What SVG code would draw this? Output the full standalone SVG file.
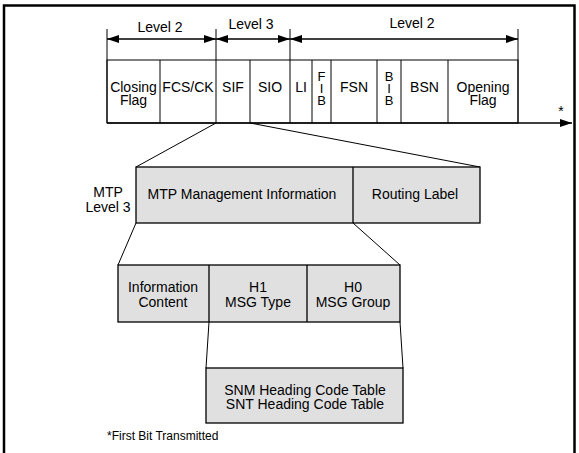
<svg xmlns="http://www.w3.org/2000/svg" width="579" height="453" viewBox="0 0 579 453">
<defs>
<style>
text{font-family:"Liberation Sans",Arial,sans-serif;font-size:14px;fill:#000;text-anchor:middle}
.l{stroke:#000;stroke-width:1;fill:none}
.b{stroke:#000;stroke-width:1.3;fill:#e0e0e0}
.a{stroke:#000;stroke-width:1.5;fill:none}
</style>
<marker id="ah" viewBox="0 0 12 8" refX="12" refY="4" markerWidth="12" markerHeight="8" markerUnits="userSpaceOnUse" orient="auto-start-reverse"><path d="M0,0 L12,4 L0,8 Z" fill="#000"/></marker>
</defs>
<path d="M4,453 V5.5 H574.5 V453" fill="none" stroke="#000" stroke-width="2.5"/>
<g id="frame">
<rect x="107" y="60" width="411" height="63" fill="#fff" stroke="#000" stroke-width="1"/>
<path class="l" d="M107,29 V123 M216,29 V123 M290,29 V123 M518,29 V123 M160,60 V123 M250,60 V123 M312,60 V123 M331,60 V123 M377,60 V123 M401,60 V123 M448,60 V123"/>
<text x="133.5" y="92">Closing</text><text x="133.5" y="105">Flag</text>
<text x="188" y="92">FCS/CK</text>
<text x="233" y="92">SIF</text>
<text x="270" y="92">SIO</text>
<text x="301" y="92">LI</text>
<text x="321.5" y="81" style="font-size:13px">F<tspan x="321.5" dy="12">I</tspan><tspan x="321.5" dy="12">B</tspan></text>
<text x="354" y="92">FSN</text>
<text x="389" y="81" style="font-size:13px">B<tspan x="389" dy="12">I</tspan><tspan x="389" dy="12">B</tspan></text>
<text x="424.5" y="92">BSN</text>
<text x="483" y="92">Opening</text><text x="483" y="105">Flag</text>
<text x="561" y="116">*</text>
</g>
<g id="levels">
<line class="a" x1="107" y1="39" x2="216" y2="39" marker-start="url(#ah)" marker-end="url(#ah)"/>
<line class="a" x1="216" y1="39" x2="290" y2="39" marker-start="url(#ah)" marker-end="url(#ah)"/>
<line class="a" x1="290" y1="39" x2="518" y2="39" marker-start="url(#ah)" marker-end="url(#ah)"/>
<text x="160" y="32">Level 2</text>
<text x="251" y="29">Level 3</text>
<text x="412" y="28">Level 2</text>
</g>
<g id="connectors">
<line class="a" x1="107" y1="123" x2="572" y2="123" marker-end="url(#ah)"/>
<path class="l" d="M216,123 L136,167 M250,123 L480,167 M136,223 L118,265 M353,223 L400,265 M209,322 L206,368 M400,322 L403,368"/>
</g>
<g id="mtp">
<rect class="b" x="136" y="167" width="344" height="56"/>
<line x1="353" y1="167" x2="353" y2="223" stroke="#000" stroke-width="1.3"/>
<text x="242" y="199">MTP Management Information</text>
<text x="415" y="199">Routing Label</text>
<text x="108" y="197">MTP</text><text x="108" y="212">Level 3</text>
</g>
<g id="heading">
<rect class="b" x="118" y="265" width="282" height="57"/>
<path d="M209,265 V322 M307,265 V322" stroke="#000" stroke-width="1.3"/>
<text x="163" y="292">Information</text><text x="163" y="307">Content</text>
<text x="258" y="292">H1</text><text x="258" y="307">MSG Type</text>
<text x="353" y="292">H0</text><text x="353" y="307">MSG Group</text>
</g>
<g id="tables">
<rect class="b" x="206" y="368" width="197" height="55"/>
<text x="305" y="395">SNM Heading Code Table</text>
<text x="305" y="409">SNT Heading Code Table</text>
</g>
<text x="107" y="440" style="text-anchor:start;font-size:12px">*First Bit Transmitted</text>
</svg>
